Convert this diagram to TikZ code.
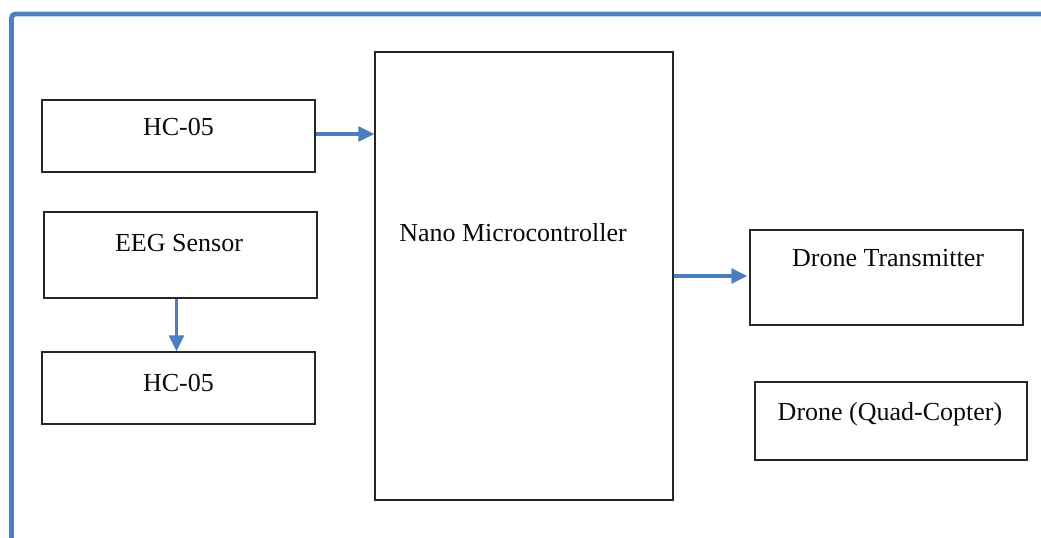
\documentclass[tikz,border=0pt]{standalone}
\usepackage{fontspec}
\setmainfont{Liberation Serif}
\usepackage{xcolor}
\usetikzlibrary{arrows.meta,positioning,calc}
\definecolor{ink}{HTML}{0B0B0B}
\definecolor{frame}{HTML}{4F81BD}
\definecolor{cblue}{HTML}{4A7EBF}
\tikzset{
  every node/.style={text=ink},
  box/.style={draw=black!85, line width=1pt, rectangle, inner sep=0pt},
  txt/.style={anchor=base, inner sep=0pt, font=\fontsize{19.5}{23}\selectfont},
  arr/.style={-{Triangle[length=12pt,width=11pt]}, line width=2.6pt, color=cblue},
}

\begin{document}
\begin{tikzpicture}[x=0.75pt,y=-0.75pt]
  \useasboundingbox (0,0) rectangle (1041,538);

  % ---- outer frame ----
  \draw[frame, line width=3.6pt, rounded corners=3pt] (11.5,540) -- (11.5,14) -- (1045,14);

  % ---- left column ----
  \node[box, minimum width=273*0.75pt, minimum height=72*0.75pt]  (hca)  at (178.5,136) {};
  \node[box, minimum width=273*0.75pt, minimum height=86*0.75pt]  (eeg)  at (180.5,255) {};
  \node[box, minimum width=273*0.75pt, minimum height=72*0.75pt]  (hcb)  at (178.5,388) {};
  \node[txt] (hcat) at (178.5,136) {HC-05};
  \node[txt] (eegt) at (179,252)   {EEG Sensor};
  \node[txt] (hcbt) at (178.5,391) {HC-05};

  % ---- controller ----
  \node[box, minimum width=298*0.75pt, minimum height=448*0.75pt] (nano) at (524,276) {};
  \node[txt] (nanot) at (513,241) {Nano Microcontroller};

  % ---- right column ----
  \node[box, minimum width=273*0.75pt, minimum height=95*0.75pt]  (tx)   at (886.5,277.5) {};
  \node[box, minimum width=272*0.75pt, minimum height=78*0.75pt]  (quad) at (891,421) {};
  \node[txt] (txt)   at (888,266) {Drone Transmitter};
  \node[txt] (quadt) at (890,420) {Drone (Quad-Copter)};

  \draw[arr] ([yshift=1.5pt]hca.east) -- ([yshift=1.5pt]hca.east -| nano.west);
  \draw[arr] ([xshift=-3pt]eeg.south) -- ([xshift=-3pt]eeg.south |- hcb.north);
  \draw[arr] (nano.east) -- ([xshift=-1.5pt]nano.east -| tx.west);
\end{tikzpicture}
\end{document}
